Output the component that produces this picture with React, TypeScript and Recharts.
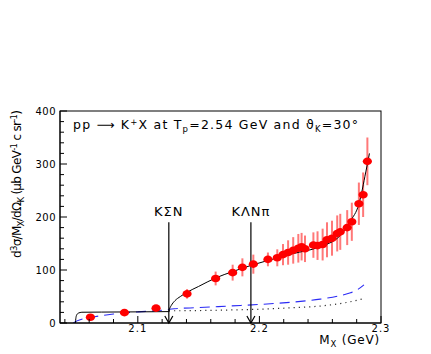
import { ComposedChart, Line, Scatter, ErrorBar, XAxis, YAxis, ReferenceLine } from 'recharts';

// measured spectrum: missing mass (GeV), cross section, stat error
const massValues = [
  2.061, 2.089, 2.115, 2.1405, 2.164, 2.178, 2.186, 2.195, 2.207, 2.2147, 2.2194, 2.2236, 2.2278, 2.232,
  2.2347, 2.2375, 2.2444, 2.2478, 2.252, 2.2556, 2.2597, 2.264, 2.2665, 2.2722, 2.276, 2.2818, 2.2853, 2.2888,
];
const sigmaValues = [
  10.8, 19.6, 28, 55, 84, 95, 105, 111, 120, 123, 129, 133, 137, 141,
  144, 140, 147, 146, 148, 157, 160, 169, 172, 180, 191, 225, 242, 305,
];
const sigmaErrors = [
  2, 2, 2, 9, 13, 15, 17, 18, 13, 16, 20, 23, 25, 27,
  26, 25, 24, 27, 30, 33, 33, 34, 34, 33, 36, 40, 42, 45,
];

// full fit (solid)
const fitMass = [
  2.0487, 2.049, 2.0495, 2.051, 2.054, 2.07, 2.1, 2.1255, 2.126, 2.1275, 2.1305, 2.135, 2.1405, 2.15,
  2.164, 2.178, 2.195, 2.207, 2.2278, 2.2486, 2.2664, 2.2747, 2.2819, 2.2875, 2.2905,
];
const fitSigma = [
  0, 8, 14, 18.5, 20.3, 20.6, 21, 21.5, 26, 33, 42, 50, 58, 69,
  85, 97, 110, 118, 131, 143, 165, 192, 225, 285, 320,
];

// Lambda-channel contribution (dashed blue)
const lambdaMass = [
  2.047, 2.05, 2.055, 2.06, 2.07, 2.08, 2.09, 2.1, 2.11, 2.12, 2.13, 2.15, 2.175, 2.2, 2.225, 2.25, 2.265,
  2.275, 2.28, 2.286,
];
const lambdaSigma = [0, 4, 8, 10, 14, 17, 19.5, 21, 22.5, 24, 27, 29, 32, 35, 39, 45, 51, 57, 62, 72];

// phase space (dotted)
const phaseMass = [2.1255, 2.15, 2.175, 2.2, 2.225, 2.25, 2.27, 2.286];
const phaseSigma = [23, 23.5, 24.5, 26, 28.5, 32, 38, 46];

const thresholdMass = [2.1255, 2.193];
const thresholdLabels = ['KΣN', 'KΛNπ'];
const thresholdTop = 190;

const xTicks = [
  2.04, 2.06, 2.08, 2.1, 2.12, 2.14, 2.16, 2.18, 2.2, 2.22, 2.24, 2.26, 2.28, 2.3,
];
const yTicks = [0, 20, 40, 60, 80, 100, 120, 140, 160, 180, 200, 220, 240, 260, 280, 300, 320, 340, 360, 380, 400];

const points = massValues.map((x, i) => ({ x, y: sigmaValues[i], err: sigmaErrors[i] }));
const fitData = fitMass.map((x, i) => ({ x, y: fitSigma[i] }));
const lambdaData = lambdaMass.map((x, i) => ({ x, y: lambdaSigma[i] }));
const phaseData = phaseMass.map((x, i) => ({ x, y: phaseSigma[i] }));

const W = 431;
const H = 354;
const plotLeft = 60;
const plotRight = 381;
const plotTop = 111;
const plotBottom = 323;
const font = '"DejaVu Sans", Verdana, sans-serif';

function isMajorX(v: number) {
  return Math.abs(v * 10 - Math.round(v * 10)) < 1e-6;
}

function XTick(props: any) {
  const { x, payload } = props;
  const major = isMajorX(payload.value);
  return (
    <g>
      <line x1={x} x2={x} y1={plotBottom} y2={plotBottom - (major ? 7 : 4)} stroke="#000" />
      {major && (
        <text x={x} y={plotBottom + 9} textAnchor="middle" fontSize={10} letterSpacing={1} fontFamily={font} fill="#000">
          {payload.value.toFixed(1)}
        </text>
      )}
    </g>
  );
}

function YTick(props: any) {
  const { y, payload } = props;
  const major = payload.value % 100 === 0;
  return (
    <g>
      <line x1={plotLeft} x2={plotLeft + (major ? 7 : 4)} y1={y} y2={y} stroke="#000" />
      {major && (
        <text x={plotLeft - 4} y={y + 4} textAnchor="end" fontSize={10} letterSpacing={0.5} fontFamily={font} fill="#000">
          {payload.value}
        </text>
      )}
    </g>
  );
}

function Dot(props: any) {
  return <ellipse cx={props.cx} cy={props.cy} rx={4.6} ry={3.8} fill="#ff0000" />;
}

function arrowShape(label: string) {
  return (props: any) => {
    const { x1, y1, x2, y2 } = props;
    const top = Math.min(y1, y2);
    const bottom = Math.max(y1, y2);
    const x = (x1 + x2) / 2;
    return (
      <g>
        <line x1={x} x2={x} y1={top} y2={bottom} stroke="#000" strokeWidth={1.2} />
        <polyline points={`${x - 4},${bottom - 7} ${x},${bottom} ${x + 4},${bottom - 7}`} fill="none" stroke="#000" strokeWidth={1.2} />
        <text x={x} y={top - 6} textAnchor="middle" fontSize={13} letterSpacing={1} fontFamily={font} fill="#000">
          {label}
        </text>
      </g>
    );
  };
}

export default function App() {
  return (
    <div style={{ position: 'absolute', left: 0, top: 0, width: W, height: H, background: '#fff' }}>
      <ComposedChart
        width={W}
        height={H}
        margin={{ top: plotTop, right: W - plotRight, bottom: H - plotBottom - 20, left: 0 }}
      >
        <XAxis
          type="number"
          dataKey="x"
          domain={[2.036, 2.3]}
          allowDataOverflow
          ticks={xTicks}
          interval={0}
          tick={XTick}
          tickLine={false}
          axisLine={{ stroke: '#000' }}
          height={20}
        />
        <YAxis
          type="number"
          dataKey="y"
          domain={[0, 400]}
          allowDataOverflow
          ticks={yTicks}
          interval={0}
          tick={YTick}
          tickLine={false}
          axisLine={{ stroke: '#000' }}
          width={plotLeft}
        />
        <Line data={lambdaData} dataKey="y" type="monotone" stroke="#2a2af5" strokeWidth={1.1} strokeDasharray="10 6" dot={false} isAnimationActive={false} />
        <Line data={phaseData} dataKey="y" type="monotone" stroke="#333" strokeWidth={1.2} strokeDasharray="1.2 4" dot={false} isAnimationActive={false} />
        {thresholdMass.map((m, i) => (
          <ReferenceLine
            key={thresholdLabels[i]}
            segment={[{ x: m, y: 0 }, { x: m, y: thresholdTop }]}
            shape={arrowShape(thresholdLabels[i])}
          />
        ))}
        <Scatter data={points} dataKey="y" shape={Dot} isAnimationActive={false}>
          <ErrorBar dataKey="err" direction="y" width={0} stroke="#ff3030" strokeOpacity={0.65} strokeWidth={2} />
        </Scatter>
        <Line data={fitData} dataKey="y" type="monotone" stroke="#000" strokeWidth={1} dot={false} isAnimationActive={false} />
      </ComposedChart>
      <svg width={W} height={H} style={{ position: 'absolute', left: 0, top: 0, pointerEvents: 'none' }}>
        <rect x={plotLeft} y={plotTop} width={plotRight - plotLeft} height={plotBottom - plotTop} fill="none" stroke="#000" />
        <text x={73} y={129} fontSize={12.5} fontFamily={font} fill="#000" textLength={285} lengthAdjust="spacing">
          pp ⟶ K<tspan dy={-4} fontSize={8.5}>+</tspan>
          <tspan dy={4}>X at T</tspan>
          <tspan dy={3} fontSize={8.5}>p</tspan>
          <tspan dy={-3}>=2.54 GeV and ϑ</tspan>
          <tspan dy={3} fontSize={8.5}>K</tspan>
          <tspan dy={-3}>=30°</tspan>
        </text>
        <text x={21} y={184} transform="rotate(-90 21 184)" textAnchor="middle" fontSize={12} fontFamily={font} fill="#000" textLength={148} lengthAdjust="spacing">
          d<tspan dy={-4} fontSize={8.5}>3</tspan>
          <tspan dy={4}>σ/M</tspan>
          <tspan dy={3} fontSize={8.5}>X</tspan>
          <tspan dy={-3}>/dΩ</tspan>
          <tspan dy={3} fontSize={8.5}>K</tspan>
          <tspan dy={-3}> (μb GeV</tspan>
          <tspan dy={-4} fontSize={8.5}>-1</tspan>
          <tspan dy={4}> c sr</tspan>
          <tspan dy={-4} fontSize={8.5}>-1</tspan>
          <tspan dy={4}>)</tspan>
        </text>
        <text x={380} y={344} textAnchor="end" fontSize={12} letterSpacing={0.8} fontFamily={font} fill="#000">
          M<tspan dy={3} fontSize={8.5}>X</tspan>
          <tspan dy={-3}> (GeV)</tspan>
        </text>
      </svg>
    </div>
  );
}
